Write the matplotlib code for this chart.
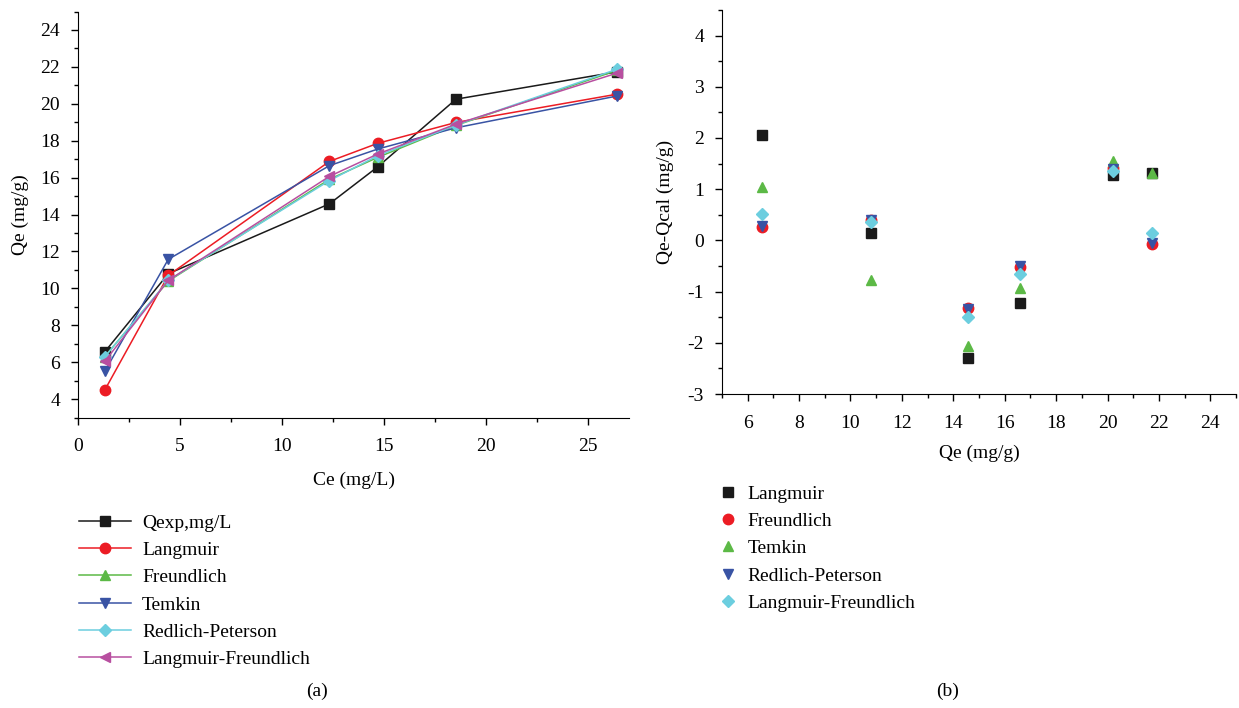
import matplotlib
matplotlib.use("Agg")
from matplotlib import pyplot as plt
from matplotlib.ticker import MultipleLocator

plt.rcParams["font.family"] = ["Liberation Serif", "DejaVu Serif"]
plt.rcParams["font.size"] = 14
plt.rcParams["axes.unicode_minus"] = False

# (a) equilibrium data and model fits
ce = [1.31, 4.42, 12.32, 14.69, 18.52, 26.4]
q_exp = [6.56, 10.79, 14.58, 16.59, 20.25, 21.73]
q_langmuir = [4.49, 10.70, 16.88, 17.86, 18.99, 20.52]
q_freundlich = [6.30, 10.39, 15.91, 17.10, 18.83, 21.81]
q_temkin = [5.50, 11.57, 16.65, 17.55, 18.70, 20.42]
q_redlich = [6.29, 10.43, 15.84, 17.19, 18.85, 21.87]
q_lf = [6.05, 10.43, 16.07, 17.28, 18.90, 21.66]

# (b) residuals against Qe
qe_b = [6.55, 10.79, 14.56, 16.60, 20.23, 21.74]
res_langmuir = [2.05, 0.15, -2.30, -1.22, 1.27, 1.31]
res_freundlich = [0.26, 0.40, -1.33, -0.51, 1.42, -0.08]
res_temkin = [1.04, -0.77, -2.07, -0.92, 1.56, 1.31]
res_redlich = [0.29, 0.39, -1.34, -0.50, 1.39, -0.05]
res_lf = [0.51, 0.36, -1.50, -0.65, 1.35, 0.14]

BLACK = "#1a1a1a"
RED = "#ec1c24"
GREEN = "#5cb946"
BLUE = "#3953a4"
CYAN = "#6ccedf"
MAGENTA = "#b84fa0"

fig = plt.figure(figsize=(12.39, 7.08), dpi=100)
ax1 = fig.add_axes([0.063, 0.4103, 0.4447, 0.5734])
ax2 = fig.add_axes([0.5827, 0.4435, 0.4149, 0.5424])

series_a = [
    (q_exp, "Qexp,mg/L", BLACK, "s"),
    (q_langmuir, "Langmuir", RED, "o"),
    (q_freundlich, "Freundlich", GREEN, "^"),
    (q_temkin, "Temkin", BLUE, "v"),
    (q_redlich, "Redlich-Peterson", CYAN, "D"),
    (q_lf, "Langmuir-Freundlich", MAGENTA, "<"),
]
for vals, lab, col, mk in series_a:
    ms = 6.5 if mk == "D" else 7.5
    ax1.plot(ce, vals, color=col, marker=mk, markersize=ms, lw=1.1, label=lab)

ax1.set_xlim(0, 27)
ax1.set_ylim(3, 25)
ax1.xaxis.set_major_locator(MultipleLocator(5))
ax1.xaxis.set_minor_locator(MultipleLocator(2.5))
ax1.yaxis.set_minor_locator(MultipleLocator(1))
ax1.set_yticks(range(4, 25, 2))
ax1.set_xlabel("Ce (mg/L)", labelpad=12)
ax1.set_ylabel("Qe (mg/g)", labelpad=8)

series_b = [
    (res_langmuir, "Langmuir", BLACK, "s"),
    (res_freundlich, "Freundlich", RED, "o"),
    (res_temkin, "Temkin", GREEN, "^"),
    (res_redlich, "Redlich-Peterson", BLUE, "v"),
    (res_lf, "Langmuir-Freundlich", CYAN, "D"),
]
for vals, lab, col, mk in series_b:
    ms = 6.5 if mk == "D" else 7.5
    ax2.plot(qe_b, vals, color=col, marker=mk, markersize=ms, ls="none", label=lab)

ax2.set_xlim(5, 25)
ax2.set_ylim(-3, 4.5)
ax2.xaxis.set_minor_locator(MultipleLocator(1))
ax2.set_xticks(range(6, 25, 2))
ax2.yaxis.set_minor_locator(MultipleLocator(0.5))
ax2.set_yticks(range(-3, 5))
ax2.set_xlabel("Qe (mg/g)", labelpad=9)
ax2.set_ylabel("Qe-Qcal (mg/g)", labelpad=10)

for ax in (ax1, ax2):
    for side in ("top", "right"):
        ax.spines[side].set_visible(False)
    ax.tick_params(which="major", direction="out", length=5, width=1, pad=6)
    ax.tick_params(which="minor", direction="out", length=3, width=1)
    ax.tick_params(axis="x", which="major", pad=10)
    ax.tick_params(axis="y", which="major", pad=8)

fig.legend(*ax1.get_legend_handles_labels(), loc="upper left",
           bbox_to_anchor=(0.051, 0.296), frameon=False, handlelength=2.7,
           labelspacing=0.5, handletextpad=0.55, borderpad=0.3)
fig.legend(*ax2.get_legend_handles_labels(), loc="upper left",
           bbox_to_anchor=(0.569, 0.337), frameon=False, handlelength=0.8,
           labelspacing=0.5, handletextpad=0.6, borderpad=0.3)

fig.text(0.256, 0.023, "(a)", ha="center", va="center")
fig.text(0.765, 0.023, "(b)", ha="center", va="center")

fig.savefig("out.png", dpi=100)
